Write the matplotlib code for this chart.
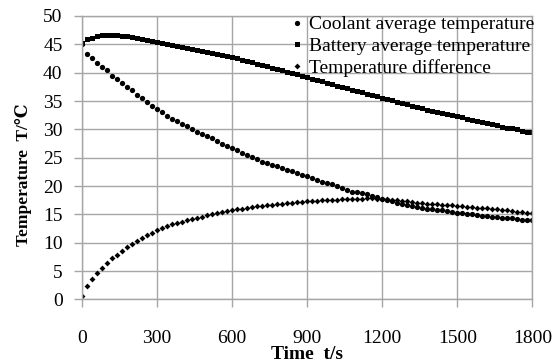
import numpy as np
import matplotlib
matplotlib.use("Agg")
import matplotlib.pyplot as plt

plt.rcParams['font.family'] = ['Liberation Serif', 'DejaVu Serif']

# time in seconds, sampled every 20 s
time_s = list(range(0, 1801, 20))

coolant = [45.0, 43.3, 42.5, 41.7, 41.0, 40.4, 39.4, 38.8, 38.2, 37.5, 37.0, 36.1, 35.5, 34.9, 34.1, 33.6,
           33.1, 32.4, 31.8, 31.4, 31.0, 30.6, 30.1, 29.6, 29.2, 28.8, 28.4, 28.0, 27.5, 27.1, 26.7,
           26.3, 25.9, 25.5, 25.1, 24.7, 24.3, 24.0, 23.8, 23.5, 23.2, 22.9, 22.6, 22.3, 22.0, 21.8,
           21.4, 21.1, 20.8, 20.6, 20.3, 20.1, 19.7, 19.3, 19.0, 18.9, 18.7, 18.6, 18.3, 18.0, 17.7,
           17.5, 17.3, 17.1, 16.9, 16.6, 16.4, 16.3, 16.1, 16.0, 15.9, 15.8, 15.7, 15.6, 15.4, 15.3,
           15.2, 15.1, 15.0, 14.9, 14.8, 14.75, 14.6, 14.5, 14.4, 14.4, 14.3, 14.2, 14.1, 14.1, 14.0]

battery = [45.3, 45.9, 46.2, 46.4, 46.6, 46.7, 46.7, 46.6, 46.5, 46.4, 46.3, 46.1, 46.0, 45.8, 45.6, 45.4,
           45.3, 45.1, 44.9, 44.7, 44.6, 44.4, 44.2, 44.0, 43.9, 43.7, 43.5, 43.3, 43.1, 42.9, 42.7,
           42.5, 42.3, 42.1, 41.8, 41.6, 41.3, 41.1, 40.9, 40.6, 40.4, 40.1, 39.9, 39.7, 39.4, 39.2,
           38.9, 38.7, 38.5, 38.2, 38.0, 37.7, 37.5, 37.3, 37.0, 36.8, 36.6, 36.3, 36.1, 35.8, 35.6,
           35.4, 35.1, 34.9, 34.7, 34.4, 34.2, 34.0, 33.8, 33.5, 33.3, 33.1, 32.9, 32.7, 32.5, 32.3,
           32.1, 31.9, 31.7, 31.5, 31.3, 31.1, 30.9, 30.7, 30.5, 30.3, 30.2, 30.0, 29.8, 29.6, 29.5]

difference = [0.7, 2.4, 3.6, 4.6, 5.5, 6.4, 7.3, 7.9, 8.6, 9.2, 9.8, 10.3, 10.8, 11.3, 11.8, 12.2,
              12.6, 13.0, 13.3, 13.5, 13.7, 14.0, 14.2, 14.4, 14.6, 14.9, 15.1, 15.3, 15.5, 15.6, 15.8,
              15.9, 16.0, 16.2, 16.3, 16.4, 16.5, 16.6, 16.7, 16.8, 16.9, 17.0, 17.1, 17.2, 17.2, 17.3,
              17.4, 17.4, 17.5, 17.5, 17.6, 17.6, 17.7, 17.7, 17.7, 17.8, 17.8, 17.9, 17.9, 17.8, 17.8,
              17.7, 17.6, 17.5, 17.4, 17.3, 17.2, 17.1, 17.0, 16.9, 16.9, 16.8, 16.7, 16.6, 16.6, 16.5,
              16.4, 16.3, 16.3, 16.2, 16.1, 16.1, 16.0, 15.9, 15.8, 15.7, 15.6, 15.5, 15.4, 15.3, 15.2]

x_ticks = [0, 300, 600, 900, 1200, 1500, 1800]
y_ticks = [0, 5, 10, 15, 20, 25, 30, 35, 40, 45, 50]

fig = plt.figure(figsize=(5.58, 3.63), dpi=100)
ax = fig.add_axes([0.147, 0.175, 0.807, 0.781])

ax.plot(time_s, coolant, 'o', color='black', markersize=3.8, markeredgewidth=0,
        label='Coolant average temperature')
ax.plot(time_s, battery, 's', color='black', markersize=3.6, markeredgewidth=0,
        label='Battery average temperature')
ax.plot(time_s, difference, 'D', color='black', markersize=3.0, markeredgewidth=0,
        label='Temperature difference')

ax.set_xlim(0, 1800)
ax.set_ylim(0, 50)
ax.set_xticks(x_ticks)
ax.set_yticks(y_ticks)
ax.grid(True, color='#a6a6a6', linewidth=1)
ax.set_axisbelow(True)
for s in ax.spines.values():
    s.set_color('#a6a6a6')
    s.set_linewidth(1)
ax.tick_params(axis='both', colors='#a6a6a6', labelcolor='black', labelsize=14,
               length=6, width=1)
ax.tick_params(axis='x', pad=16)
ax.tick_params(axis='y', pad=8)

ax.set_xlabel('Time  t/s', fontsize=14, fontweight='bold', labelpad=-1)
ax.set_ylabel('Temperature  T/\u2103', fontsize=12.5, fontweight='bold')
ax.yaxis.set_label_coords(-0.112, 0.44)

ax.legend(loc='upper right', bbox_to_anchor=(1.025, 1.035), frameon=False, fontsize=14,
          handlelength=0.6, handletextpad=0.3, labelspacing=0.2, borderpad=0,
          markerscale=1.0)

fig.savefig('out.png', dpi=100)
